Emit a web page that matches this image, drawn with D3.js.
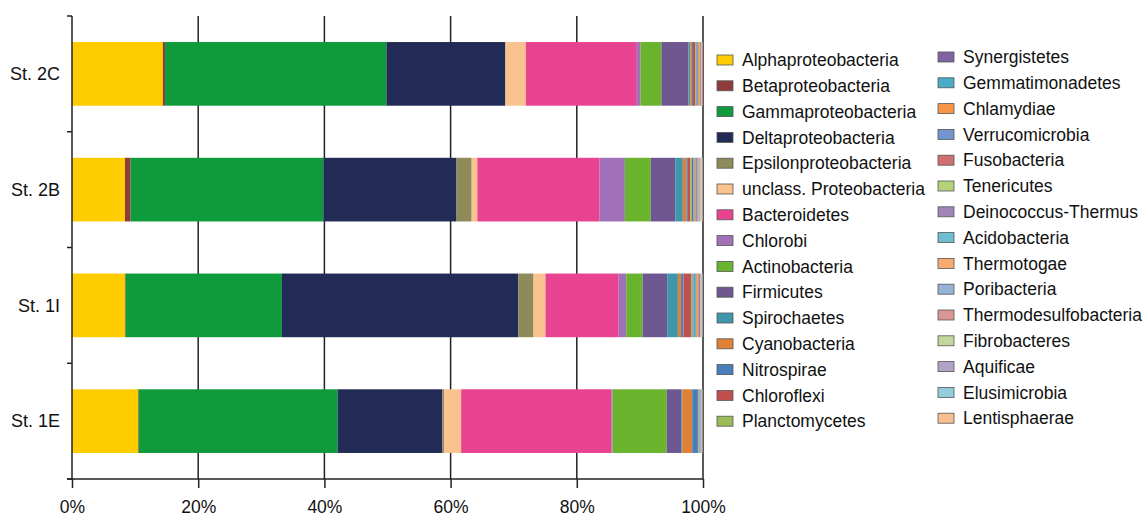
<!DOCTYPE html>
<html>
<head>
<meta charset="utf-8">
<script src="https://cdn.jsdelivr.net/npm/d3@7"></script>
<style>
  body { margin: 0; background: #fff; }
  text { font-family: "Liberation Sans", Arial, sans-serif; fill: #111; }
</style>
</head>
<body>
<div id="chart"></div>
<script>

// stations, top to bottom
let stations = ["St. 2C", "St. 2B", "St. 1I", "St. 1E"];

// phyla, in stacking / legend order
let phyla = ["Alphaproteobacteria", "Betaproteobacteria", "Gammaproteobacteria", "Deltaproteobacteria",
	"Epsilonproteobacteria", "unclass. Proteobacteria", "Bacteroidetes", "Chlorobi", "Actinobacteria",
	"Firmicutes", "Spirochaetes", "Cyanobacteria", "Nitrospirae", "Chloroflexi", "Planctomycetes",
	"Synergistetes", "Gemmatimonadetes", "Chlamydiae", "Verrucomicrobia", "Fusobacteria", "Tenericutes",
	"Deinococcus-Thermus", "Acidobacteria", "Thermotogae", "Poribacteria", "Thermodesulfobacteria",
	"Fibrobacteres", "Aquificae", "Elusimicrobia", "Lentisphaerae"];

let colors = ["#ffcc00", "#8e3b3b", "#0f9a3c", "#212b55", "#8e8a5a", "#f9c28f", "#e84390", "#a070b8",
	"#6ab42d", "#6e5690", "#3f95aa", "#de8036", "#4a7ebb", "#c0504d", "#9bbb59", "#8064a2", "#4bacc6",
	"#f79646", "#7394cd", "#d0706e", "#b3d27a", "#9e86b9", "#6fbdd1", "#f9ab70", "#95b3d7", "#d99694",
	"#c3d69b", "#b3a2c7", "#93cddd", "#fabf8f"];

// relative abundance (%) per station, same order as phyla
let st2C = [14.4, 0.35, 35.1, 18.8, 0.1, 3.2, 17.6, 0.6, 3.3, 4.3, 0.3, 0.25, 0.15, 0.4, 0.15,
	0.1, 0.15, 0.25, 0.1, 0.15, 0.03, 0.03, 0.05, 0.03, 0.02, 0.03, 0.02, 0.02, 0.02, 0.04];
let st2B = [8.4, 0.9, 30.6, 21.1, 2.4, 0.9, 19.4, 4.0, 4.1, 3.9, 1.2, 0.6, 0.2, 0.4, 0.25,
	0.2, 0.25, 0.2, 0.2, 0.2, 0.1, 0.1, 0.1, 0.1, 0.05, 0.05, 0.05, 0.05, 0.05, 0.05];
let st1I = [8.4, 0.1, 24.8, 37.5, 2.4, 1.9, 11.6, 1.2, 2.6, 3.9, 1.7, 0.5, 0.4, 1.2, 0.2,
	0.15, 0.4, 0.3, 0.15, 0.2, 0.05, 0.05, 0.1, 0.05, 0.05, 0.05, 0.03, 0.03, 0.03, 0.04];
let st1E = [10.5, 0.1, 31.6, 16.6, 0.3, 2.7, 23.9, 0.15, 8.6, 2.3, 0.15, 1.6, 0.9, 0.1, 0.1,
	0.05, 0.1, 0.05, 0.1, 0.05, 0.03, 0.03, 0.03, 0.03, 0.03, 0.03, 0.02, 0.02, 0.02, 0.02];

let xTicks = [0, 0.2, 0.4, 0.6, 0.8, 1];

// build table for d3.stack
let rows = [st2C, st2B, st1I, st1E].map((vals, i) => {
	let r = {station: stations[i]};
	phyla.forEach((p, j) => r[p] = vals[j]);
	return r;
});

let width = 1148, height = 519;
let margin = {top: 16, left: 72};
let plotW = 631, plotH = 463;

let svg = d3.select("#chart").append("svg")
	.attr("width", width)
	.attr("height", height);

let g = svg.append("g")
	.attr("transform", "translate(" + margin.left + "," + margin.top + ")");

let x = d3.scaleLinear().domain([0, 1]).range([0, plotW]);
let y = d3.scaleBand().domain(stations).range([0, plotH]).paddingInner(0.45).paddingOuter(0.225);
let color = d3.scaleOrdinal().domain(phyla).range(colors);

let stack = d3.stack().keys(phyla).offset(d3.stackOffsetExpand);
let series = stack(rows);

// vertical gridlines
g.selectAll(".grid")
	.data(xTicks.slice(1))
	.join("line")
	.attr("class", "grid")
	.attr("x1", d => x(d)).attr("x2", d => x(d))
	.attr("y1", 0).attr("y2", plotH)
	.attr("stroke", "#222").attr("stroke-width", 1.5);

// bars
g.selectAll(".layer")
	.data(series)
	.join("g")
	.attr("class", "layer")
	.attr("fill", d => color(d.key))
	.selectAll("rect")
	.data(d => d)
	.join("rect")
	.attr("x", d => x(d[0]))
	.attr("width", d => Math.max(0, x(d[1]) - x(d[0])))
	.attr("y", d => y(d.data.station))
	.attr("height", y.bandwidth());

// x axis
let xAxis = d3.axisBottom(x).tickValues(xTicks).tickFormat(d3.format(".0%"))
	.tickSize(9).tickSizeOuter(0).tickPadding(13);
let xg = g.append("g")
	.attr("transform", "translate(0," + plotH + ")")
	.call(xAxis);
xg.select(".domain").attr("stroke", "#222").attr("stroke-width", 1.5)
	.attr("d", "M-5,0H" + plotW);
xg.selectAll(".tick line").attr("stroke", "#222").attr("stroke-width", 1.5);
xg.selectAll("text").style("font-size", "17.5px").attr("fill", "#111")
	.style("font-family", "'Liberation Sans', Arial, sans-serif");

// y axis: labels at band centres, ticks at band boundaries
g.append("line")
	.attr("x1", 0).attr("x2", 0).attr("y1", 0).attr("y2", plotH)
	.attr("stroke", "#222").attr("stroke-width", 1.5);

let step = plotH / stations.length;
g.selectAll(".ytick")
	.data(d3.range(stations.length + 1))
	.join("line")
	.attr("class", "ytick")
	.attr("x1", -5).attr("x2", 0)
	.attr("y1", d => d * step).attr("y2", d => d * step)
	.attr("stroke", "#222").attr("stroke-width", 1.5);

g.selectAll(".ylabel")
	.data(stations)
	.join("text")
	.attr("class", "ylabel")
	.attr("x", -12)
	.attr("y", d => y(d) + y.bandwidth() / 2)
	.attr("dy", "0.35em")
	.attr("text-anchor", "end")
	.style("font-size", "18px")
	.text(d => d);

// legend, two columns of 15
let legend = svg.append("g");
let perCol = 15, pitch = 25.8;
let legItems = legend.selectAll(".leg")
	.data(phyla)
	.join("g")
	.attr("class", "leg")
	.attr("transform", (d, i) => {
		let col = Math.floor(i / perCol), row = i % perCol;
		let lx = col === 0 ? 717 : 938;
		let ly = (col === 0 ? 60 : 57) + row * pitch;
		return "translate(" + lx + "," + ly + ")";
	});

legItems.append("rect")
	.attr("x", 0).attr("y", -5)
	.attr("width", 16).attr("height", 10)
	.attr("fill", d => color(d))
	.attr("stroke", "#555").attr("stroke-width", 0.8);

legItems.append("text")
	.attr("x", 25)
	.attr("dy", "0.35em")
	.style("font-size", "17.5px")
	.text(d => d);

</script>
</body>
</html>
